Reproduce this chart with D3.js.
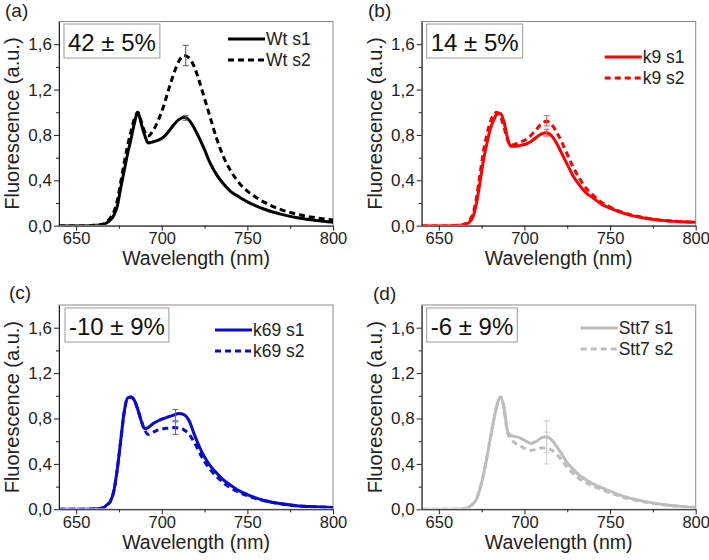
<!DOCTYPE html>
<html><head><meta charset="utf-8">
<script src="https://cdn.jsdelivr.net/npm/d3@7"></script>
<style>body{margin:0;background:#fff} text{font-family:"Liberation Sans", Arial, sans-serif}</style>
</head><body><svg id="c" width="709" height="560"></svg>
<script>
const wavelength = [640,655,662,666,668,670,672,674,676,678,680,682,684,686,688,690,692,695,698,701,704,707,710,713,716,719,722,725,728,732,736,740,745,750,755,760,770,780,790,800];
const wtS1   = [0,0,0.003,0.01,0.025,0.05,0.09,0.17,0.33,0.48,0.63,0.76,0.90,1.00,0.90,0.80,0.73,0.74,0.755,0.78,0.83,0.89,0.935,0.955,0.93,0.86,0.77,0.67,0.56,0.45,0.37,0.305,0.255,0.21,0.175,0.145,0.10,0.067,0.045,0.03];
const wtS2   = [0,0,0.004,0.015,0.035,0.07,0.12,0.22,0.38,0.55,0.70,0.83,0.94,1.00,0.92,0.83,0.79,0.84,0.93,1.05,1.20,1.34,1.45,1.50,1.48,1.40,1.27,1.12,0.97,0.77,0.61,0.49,0.38,0.305,0.25,0.205,0.14,0.097,0.07,0.05];
const k9S1   = [0,0,0.003,0.012,0.035,0.08,0.20,0.38,0.57,0.72,0.85,0.93,0.985,0.99,0.92,0.78,0.70,0.70,0.71,0.72,0.745,0.78,0.81,0.82,0.79,0.72,0.63,0.54,0.45,0.36,0.29,0.245,0.19,0.155,0.125,0.10,0.067,0.047,0.036,0.03];
const k9S2   = [0,0,0.004,0.02,0.05,0.11,0.25,0.45,0.65,0.80,0.91,0.98,1.00,0.96,0.87,0.76,0.71,0.72,0.74,0.76,0.80,0.85,0.90,0.92,0.89,0.82,0.73,0.63,0.53,0.42,0.33,0.27,0.205,0.165,0.13,0.105,0.07,0.049,0.037,0.03];
const k69S1  = [0,0,0.004,0.015,0.04,0.07,0.16,0.35,0.60,0.85,0.98,0.99,0.96,0.88,0.78,0.71,0.72,0.755,0.78,0.80,0.815,0.83,0.845,0.835,0.78,0.66,0.55,0.46,0.39,0.32,0.26,0.215,0.165,0.13,0.10,0.078,0.048,0.03,0.022,0.015];
const k69S2  = [0,0,0.004,0.015,0.04,0.07,0.16,0.35,0.60,0.85,0.98,0.99,0.96,0.88,0.78,0.70,0.66,0.68,0.70,0.71,0.715,0.72,0.715,0.70,0.66,0.59,0.50,0.42,0.355,0.29,0.235,0.19,0.15,0.12,0.095,0.075,0.046,0.03,0.022,0.015];
const stt7S1 = [0,0,0.002,0.008,0.025,0.05,0.09,0.18,0.30,0.45,0.62,0.78,0.92,0.99,0.90,0.70,0.65,0.64,0.625,0.60,0.58,0.60,0.63,0.64,0.61,0.55,0.48,0.41,0.36,0.30,0.26,0.225,0.19,0.16,0.13,0.105,0.07,0.045,0.028,0.015];
const stt7S2 = [0,0,0.002,0.008,0.025,0.05,0.09,0.18,0.30,0.45,0.62,0.78,0.92,0.99,0.90,0.68,0.62,0.58,0.555,0.53,0.52,0.53,0.54,0.54,0.52,0.48,0.43,0.37,0.32,0.27,0.235,0.205,0.175,0.145,0.12,0.097,0.065,0.042,0.026,0.015];

const xTicks = [650,700,750,800];
const xMinorTicks = [675,725,775];
const yTicks = [0,0.4,0.8,1.2,1.6];
const yTickLabels = ["0,0","0,4","0,8","1,2","1,6"];
const yMinorTicks = [0.2,0.6,1.0,1.4];
const panelLabels = ["(a)","(b)","(c)","(d)"];
const changeTexts = ["42 ± 5%","14 ± 5%","-10 ± 9%","-6 ± 9%"];
const legendNames = [["Wt s1","Wt s2"],["k9 s1","k9 s2"],["k69 s1","k69 s2"],["Stt7 s1","Stt7 s2"]];
const seriesS1 = [wtS1,k9S1,k69S1,stt7S1];
const seriesS2 = [wtS2,k9S2,k69S2,stt7S2];
// error bars: [wavelength, low, high] for s1 and s2
const errS1 = [[714,0.93,0.97],[713,0.79,0.85],[708,0.78,0.88],[713,0.50,0.78]];
const errS2 = [[714,1.41,1.59],[713,0.88,0.97],[708,0.66,0.77],[713,0.40,0.68]];

const colors = ["#000000","#ff0000","#0a0ad8","#bdbdbd"];
const errColors = ["#555555","#ff5050","#5a5af0","#cccccc"];

const layout = [
  {l:59,r:333,t:21.5,b:225.7, lab:[5,17], leg:[-105,17.5], box:[5,2.5]},
  {l:421.7,r:695.7,t:21.5,b:225.7, lab:[368,17], leg:[-91,35.5], box:[5,2.5]},
  {l:59,r:333,t:305,b:509.3, lab:[9,299], leg:[-118,25], box:[6,3]},
  {l:421.7,r:695.7,t:305,b:509.3, lab:[373,300], leg:[-115,23], box:[5,3]}
];

const svg = d3.select("#c");
layout.forEach((L,i)=>{
  const x = d3.scaleLinear().domain([640,800]).range([L.l,L.r]);
  const y = d3.scaleLinear().domain([0,1.8]).range([L.b,L.t]);
  const g = svg.append("g");
  // frame
  g.append("rect").attr("x",L.l).attr("y",L.t).attr("width",L.r-L.l).attr("height",L.b-L.t)
    .attr("fill","none").attr("stroke","#8a8a8a").attr("stroke-width",1);
  // clip
  const cid = "clip"+i;
  svg.append("clipPath").attr("id",cid).append("rect").attr("x",L.l).attr("y",L.t-2).attr("width",L.r-L.l).attr("height",L.b-L.t+1);
  // curves
  const line = d3.line().x((d,j)=>x(wavelength[j])).y(d=>y(d)).curve(d3.curveMonotoneX);
  const cg = g.append("g").attr("clip-path",`url(#${cid})`);
  cg.append("path").attr("d",line(seriesS2[i])).attr("fill","none").attr("stroke",colors[i])
    .attr("stroke-width",3).attr("stroke-dasharray","6,4");
  cg.append("path").attr("d",line(seriesS1[i])).attr("fill","none").attr("stroke",colors[i])
    .attr("stroke-width",3);
  // error bars
  [errS1[i],errS2[i]].forEach(e=>{
    const xe = x(e[0]);
    g.append("line").attr("x1",xe).attr("x2",xe).attr("y1",y(e[1])).attr("y2",y(e[2])).attr("stroke",errColors[i]).attr("stroke-width",1);
    [e[1],e[2]].forEach(v=>g.append("line").attr("x1",xe-3).attr("x2",xe+3).attr("y1",y(v)).attr("y2",y(v)).attr("stroke",errColors[i]).attr("stroke-width",1));
  });
  // axes
  const xAxis = d3.axisBottom(x).tickValues(xTicks).tickSize(5).tickSizeOuter(0).tickFormat(d3.format("d"));
  const xa = g.append("g").attr("transform",`translate(0,${L.b})`).call(xAxis);
  xa.select(".domain").attr("stroke","#222");
  xa.selectAll(".tick line").attr("stroke","#222");
  xa.selectAll("text").attr("font-size",16.5).attr("font-family","Liberation Sans, Arial, sans-serif").attr("fill","#222").attr("dy",null).attr("y",18.5);
  const xm = d3.axisBottom(x).tickValues(xMinorTicks).tickSize(3).tickSizeOuter(0).tickFormat("");
  const xma = g.append("g").attr("transform",`translate(0,${L.b})`).call(xm);
  xma.select(".domain").remove(); xma.selectAll(".tick line").attr("stroke","#222");
  const yAxis = d3.axisLeft(y).tickValues(yTicks).tickSize(5).tickSizeOuter(0).tickFormat((d,j)=>yTickLabels[j]);
  const ya = g.append("g").attr("transform",`translate(${L.l},0)`).call(yAxis);
  ya.select(".domain").attr("stroke","#222");
  ya.selectAll(".tick line").attr("stroke","#222");
  ya.selectAll("text").attr("font-size",17).attr("font-family","Liberation Sans, Arial, sans-serif").attr("fill","#222").attr("x",-7);
  const ym = d3.axisLeft(y).tickValues(yMinorTicks).tickSize(3).tickSizeOuter(0).tickFormat("");
  const yma = g.append("g").attr("transform",`translate(${L.l},0)`).call(ym);
  yma.select(".domain").remove(); yma.selectAll(".tick line").attr("stroke","#222");
  // titles
  g.append("text").attr("x",(L.l+L.r)/2).attr("y",L.b+39.5).attr("text-anchor","middle")
    .attr("font-size",19.5).attr("fill","#222").text("Wavelength (nm)");
  g.append("text").attr("transform",`translate(${L.l-40},${(L.t+L.b)/2}) rotate(-90)`).attr("text-anchor","middle")
    .attr("font-size",20).attr("fill","#222").text("Fluorescence (a.u.)");
  // panel label
  g.append("text").attr("x",L.lab[0]).attr("y",L.lab[1]).attr("font-size",19).attr("fill","#222").text(panelLabels[i]);
  // box
  const bx = L.l+L.box[0], by = L.t+L.box[1];
  const rect = g.append("rect").attr("x",bx).attr("y",by).attr("height",34).attr("fill","#fff").attr("stroke","#9a9a9a").attr("stroke-width",1);
  const t = g.append("text").attr("x",bx+4).attr("y",by+27).attr("font-size",24).attr("fill","#111").text(changeTexts[i]);
  rect.attr("width",t.node().getComputedTextLength()+8);
  // legend
  const lx = L.r+L.leg[0], ly = L.t+L.leg[1];
  legendNames[i].forEach((n,k)=>{
    const yy = ly + k*21;
    g.append("line").attr("x1",lx).attr("x2",lx+37).attr("y1",yy).attr("y2",yy).attr("stroke",colors[i]).attr("stroke-width",3)
      .attr("stroke-dasharray",k===1?"6,4":null);
    g.append("text").attr("x",lx+38).attr("y",yy).attr("dy","0.35em").attr("font-size",17.5).attr("fill","#222").text(n);
  });
});
</script></body></html>
